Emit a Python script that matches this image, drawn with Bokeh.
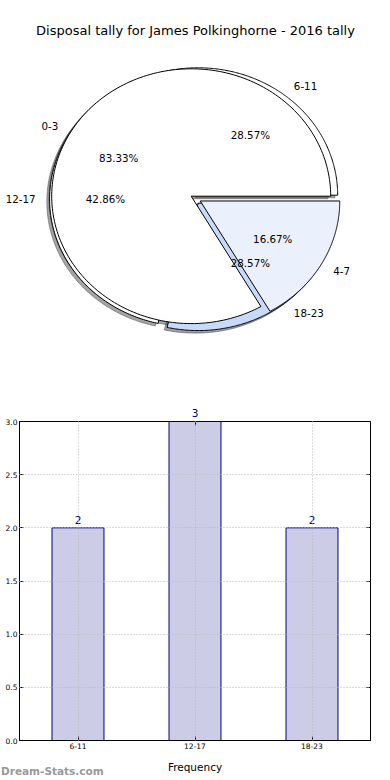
import numpy as np
from bokeh.plotting import figure
from bokeh.layouts import column
from bokeh.models import (Range1d, ColumnDataSource, LabelSet, Label, FixedTicker,
                          NumeralTickFormatter, LinearAxis)
from bokeh.embed import file_html
from bokeh.resources import INLINE
from bokeh.core.properties import value

# ---------------- data ----------------
chart_title = "Disposal tally for James Polkinghorne - 2016 tally"

# first pie (drawn underneath)
pie1_labels = ["6-11", "12-17", "18-23"]
pie1_values = [2, 3, 2]
pie1_colors = ["#ffffff", "#ffffff", "#c8dafa"]
pie1_explode = [0.04, 0.04, 0.04]

# second pie (drawn on top)
pie2_labels = ["0-3", "4-7"]
pie2_values = [5, 1]
pie2_colors = ["#ffffff", "#ebf1fc"]
pie2_explode = [0.0, 0.075]

# bar chart
bar_cats = ["6-11", "12-17", "18-23"]
bar_values = [2, 3, 2]
y_ticks = [0.0, 0.5, 1.0, 1.5, 2.0, 2.5, 3.0]
y_max = 3.0
x_axis_label = "Frequency"
watermark = "Dream-Stats.com"

FONT = "DejaVu Sans"
PAGE_W = 390

# ---------------- pie figure ----------------
W1, H1 = PAGE_W, 390
CX, CY = 190.7, 195.7      # pie centre in canvas pixels
RX, RY = 139.5, 127.4      # unit radius in pixels (x, y)

p1 = figure(width=W1, height=H1, output_backend="svg", toolbar_location=None,
            x_range=Range1d(-CX / RX, (W1 - CX) / RX),
            y_range=Range1d(-(H1 - CY) / RY, CY / RY),
            x_axis_type=None, y_axis_type=None, title=None,
            min_border=0, outline_line_color=None, frame_align=False)
p1.grid.visible = False
p1.background_fill_color = "white"
p1.border_fill_color = "white"


def pie_geometry(values, explode, colors, labels, center):
    total = float(sum(values))
    t1 = 0.0
    wed = dict(xs=[], ys=[], color=[], sxs=[], sys=[], scolor=[])
    txt = dict(x=[], y=[], text=[], align=[])
    pct = dict(x=[], y=[], text=[])
    for v, e, c, lab in zip(values, explode, colors, labels):
        t2 = t1 + 360.0 * v / total
        tm = np.deg2rad((t1 + t2) / 2.0)
        cx = center[0] + e * np.cos(tm)
        cy = center[1] + e * np.sin(tm)
        th = np.deg2rad(np.linspace(t1, t2, 200))
        xs = np.concatenate([[cx], cx + np.cos(th), [cx]])
        ys = np.concatenate([[cy], cy + np.sin(th), [cy]])
        wed["xs"].append(list(xs))
        wed["ys"].append(list(ys))
        wed["color"].append(c)
        wed["sxs"].append(list(xs - 0.02))
        wed["sys"].append(list(ys - 0.02))
        r = int(c[1:3], 16) * 0.3
        g = int(c[3:5], 16) * 0.3
        b = int(c[5:7], 16) * 0.3
        wed["scolor"].append("#%02x%02x%02x" % (int(r), int(g), int(b)))
        lx = cx + 1.1 * np.cos(tm)
        ly = cy + 1.1 * np.sin(tm)
        txt["x"].append(lx)
        txt["y"].append(ly)
        txt["text"].append(lab)
        txt["align"].append("left" if (lx - center[0]) > 0 else "right")
        pct["x"].append(cx + 0.6 * np.cos(tm))
        pct["y"].append(cy + 0.6 * np.sin(tm))
        pct["text"].append("%1.2f%%" % (100.0 * v / total))
        t1 = t2
    return wed, txt, pct


pie1_center = (0.025, -0.0235)
pie2_center = (0.0, 0.0)
w1, t1_, c1 = pie_geometry(pie1_values, pie1_explode, pie1_colors, pie1_labels, pie1_center)
w2, t2_, c2 = pie_geometry(pie2_values, pie2_explode, pie2_colors, pie2_labels, pie2_center)
s1, s2 = ColumnDataSource(w1), ColumnDataSource(w2)

# all shadows first, then the wedges of both pies
for src in (s1, s2):
    p1.patches(xs="sxs", ys="sys", source=src, fill_color="scolor", fill_alpha=0.5,
               line_color="scolor", line_alpha=0.5, line_width=1)
for src in (s1, s2):
    p1.patches(xs="xs", ys="ys", source=src, fill_color="color",
               line_color="black", line_width=1)

for t in (t1_, t2_):
    p1.text(x="x", y="y", text="text", source=ColumnDataSource(t), text_align="align",
            text_baseline="middle", text_font=value(FONT), text_font_size="10.3px",
            text_color="black")
for c in (c1, c2):
    p1.text(x="x", y="y", text="text", source=ColumnDataSource(c), text_align="center",
            text_baseline="middle", text_font=value(FONT), text_font_size="10.3px",
            text_color="black")

# title
title_px = (195.0, 30.0)
p1.add_layout(Label(x=(title_px[0] - CX) / RX, y=(CY - title_px[1]) / RY, text=chart_title,
                    text_align="center", text_baseline="middle", text_font=FONT,
                    text_font_size="13px", text_color="black"))

# ---------------- bar figure ----------------
W2, H2 = PAGE_W, 368
xpos = list(range(len(bar_cats)))
p2 = figure(width=W2, height=H2, output_backend="svg", toolbar_location=None,
            x_range=Range1d(-0.5, len(bar_cats) - 0.5), y_range=Range1d(0, y_max), title=None,
            min_border_left=19, min_border_right=20, min_border_top=31, min_border_bottom=18,
            frame_align=False)
p2.background_fill_color = "white"
p2.border_fill_color = "white"
p2.outline_line_color = "black"
p2.outline_line_width = 1

p2.vbar(x=xpos, top=bar_values, width=0.444, fill_color="navy", fill_alpha=0.2,
        line_color="navy", line_width=1)

# value labels that fit inside the frame
inside = [v < y_max for v in bar_values]
lab_src = ColumnDataSource(dict(x=[x for x, k in zip(xpos, inside) if k],
                                y=[v for v, k in zip(bar_values, inside) if k],
                                t=[str(v) for v, k in zip(bar_values, inside) if k]))
p2.add_layout(LabelSet(x="x", y="y", text="t", source=lab_src, y_offset=4,
                       text_align="center", text_baseline="bottom", text_color="navy",
                       text_font=value(FONT), text_font_size="10.5px"))

p2.xaxis.ticker = FixedTicker(ticks=xpos)
p2.xaxis.major_label_overrides = {x: c for x, c in zip(xpos, bar_cats)}
p2.yaxis.ticker = FixedTicker(ticks=y_ticks)
p2.yaxis.formatter = NumeralTickFormatter(format="0.0")
for ax in (p2.xaxis[0], p2.yaxis[0]):
    ax.major_tick_in = 4
    ax.major_tick_out = 0
    ax.minor_tick_in = 0
    ax.minor_tick_out = 0
    ax.major_label_text_font = FONT
    ax.major_label_text_font_size = "7.5px"
    ax.major_label_standoff = 2
    ax.axis_line_color = "black"
    ax.major_tick_line_color = "black"
    ax.major_label_text_color = "black"

# top axis: carries the value label of the bar that reaches the top of the frame
top_x = [x for x, k in zip(xpos, inside) if not k]
top_ax = LinearAxis(ticker=FixedTicker(ticks=top_x), major_tick_in=4, major_tick_out=0,
                    minor_tick_in=0, minor_tick_out=0, axis_line_color=None,
                    major_tick_line_color="black", major_label_standoff=5,
                    major_label_text_font=FONT, major_label_text_font_size="10.5px",
                    major_label_text_color="navy",
                    major_label_overrides={x: str(v) for x, v, k in
                                           zip(xpos, bar_values, inside) if not k})
p2.add_layout(top_ax, "above")
right_ax = LinearAxis(ticker=FixedTicker(ticks=y_ticks), major_label_text_color=None,
                      major_label_text_font_size="7.5px",
                      major_tick_in=4, major_tick_out=0, minor_tick_in=0, minor_tick_out=0,
                      major_label_standoff=0, axis_line_color=None,
                      major_tick_line_color="black")
p2.add_layout(right_ax, "right")

p2.grid.grid_line_color = "#b8b8b8"
p2.grid.grid_line_dash = "1 2"
p2.grid.grid_line_width = 1
p2.xgrid.ticker = FixedTicker(ticks=xpos)
p2.grid.level = "overlay"

# ---------------- bottom strip: axis title and watermark ----------------
W3, H3 = PAGE_W, 780 - H1 - H2
p3 = figure(width=W3, height=H3, output_backend="svg", toolbar_location=None,
            x_range=Range1d(0, W3), y_range=Range1d(0, H3),
            x_axis_type=None, y_axis_type=None, title=None,
            min_border=0, outline_line_color=None, frame_align=False)
p3.grid.visible = False
p3.background_fill_color = "white"
p3.border_fill_color = "white"
frame_mid = (19 + (W2 - 20)) / 2.0
p3.text(x=[frame_mid], y=[H3 - 8], text=[x_axis_label], text_align="center",
        text_baseline="middle", text_font=value(FONT), text_font_size="10.5px",
        text_color="black")
p3.text(x=[0.5], y=[H3 - 12], text=[watermark], text_align="left",
        text_baseline="middle", text_font=value(FONT), text_font_size="10.5px",
        text_font_style="bold", text_color="#999999")

layout = column(p1, p2, p3, spacing=0)
open("out.html", "w").write(file_html(layout, INLINE))
